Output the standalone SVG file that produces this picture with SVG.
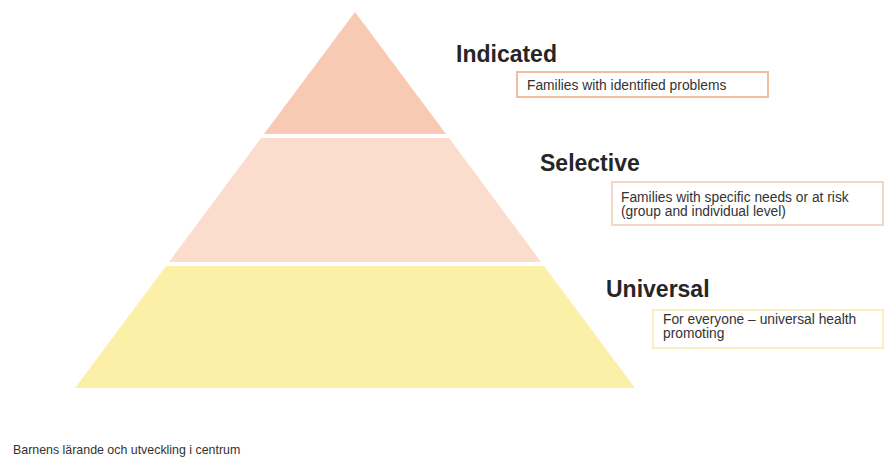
<svg xmlns="http://www.w3.org/2000/svg" width="884" height="459" viewBox="0 0 884 459">
<style>
.h{font-family:"Liberation Sans",Arial,sans-serif;font-weight:bold;font-size:23px;fill:#262626}
.t{font-family:"Liberation Sans",Arial,sans-serif;font-size:13.8px;fill:#333}
.f{font-family:"Liberation Sans",Arial,sans-serif;font-size:12.4px;fill:#333}
.box{fill:#fff;stroke-width:2}
</style>
<rect width="884" height="459" fill="#fff"/>
<g id="indicated">
<polygon points="355,12 446,134 264,134" fill="#F9CAB3"/>
<text class="h" x="456" y="62">Indicated</text>
<rect class="box" x="517" y="72" width="251" height="25" stroke="#F2BC9F"/>
<text class="t" x="527" y="90">Families with identified problems</text>
</g>
<g id="selective">
<polygon points="261,138 449,138 541,262 169,262" fill="#FBDCCD"/>
<text class="h" x="540" y="171">Selective</text>
<rect class="box" x="612" y="182" width="271" height="43" stroke="#F5D6C8"/>
<text class="t" x="621" y="202">Families with specific needs or at risk</text>
<text class="t" x="621" y="216">(group and individual level)</text>
</g>
<g id="universal">
<polygon points="166,266 544,266 635,388 75,388" fill="#FCEFA8"/>
<text class="h" x="606" y="297">Universal</text>
<rect class="box" x="653" y="310" width="230" height="38" stroke="#F9EFC0"/>
<text class="t" x="663" y="324">For everyone – universal health</text>
<text class="t" x="663" y="338">promoting</text>
</g>
<g id="connectors"/>
<text class="f" x="13" y="454">Barnens lärande och utveckling i centrum</text>
</svg>
